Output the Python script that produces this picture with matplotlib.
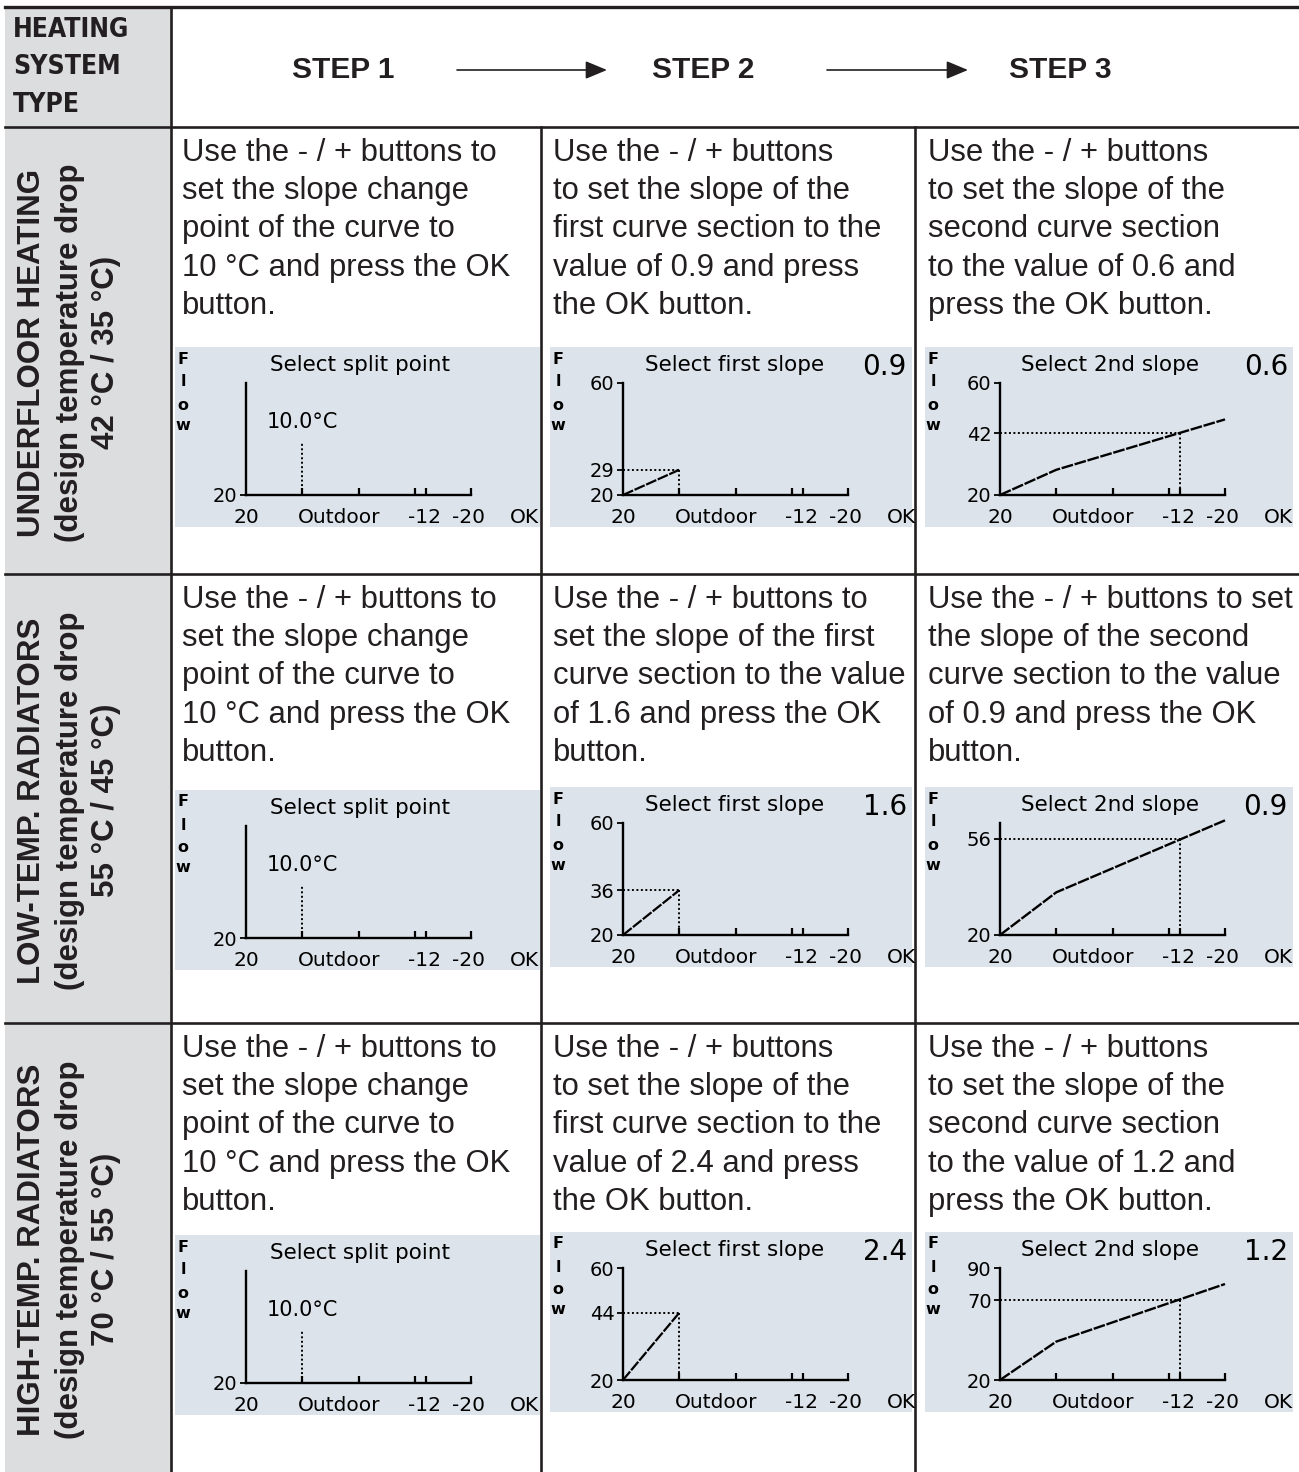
import matplotlib
matplotlib.use('Agg')
import matplotlib.pyplot as plt
from matplotlib import font_manager
from matplotlib.font_manager import FontProperties
from matplotlib.patches import Rectangle

# ---------------------------------------------------------------------
# Data
# ---------------------------------------------------------------------
header_lines = ["HEATING", "SYSTEM", "TYPE"]
step_names = ["STEP 1", "STEP 2", "STEP 3"]

systems = ["UNDERFLOOR HEATING", "LOW-TEMP. RADIATORS", "HIGH-TEMP. RADIATORS"]
drop_line = "(design temperature drop"
design_temps = ["42 °C / 35 °C)", "55 °C / 45 °C)", "70 °C / 55 °C)"]

step1_text = ["Use the - / + buttons to", "set the slope change",
              "point of the curve to", "10 °C and press the OK", "button."]
step2_text = [
    ["Use the - / + buttons", "to set the slope of the",
     "first curve section to the", "value of 0.9 and press", "the OK button."],
    ["Use the - / + buttons to", "set the slope of the first",
     "curve section to the value", "of 1.6 and press the OK", "button."],
    ["Use the - / + buttons", "to set the slope of the",
     "first curve section to the", "value of 2.4 and press", "the OK button."],
]
step3_text = [
    ["Use the - / + buttons", "to set the slope of the",
     "second curve section", "to the value of 0.6 and", "press the OK button."],
    ["Use the - / + buttons to set", "the slope of the second",
     "curve section to the value", "of 0.9 and press the OK", "button."],
    ["Use the - / + buttons", "to set the slope of the",
     "second curve section", "to the value of 1.2 and", "press the OK button."],
]

split_point = 10.0            # outdoor temp of slope change (°C)
design_outdoor = -12          # design outdoor temp (°C)
outdoor_min, outdoor_max = -20, 20
base_flow = 20
slope1 = ["0.9", "1.6", "2.4"]
slope2 = ["0.6", "0.9", "1.2"]
flow_split = [29, 36, 44]     # flow at split point
flow_design = [42, 56, 70]    # flow at -12 °C
flow_end = [47, 63, 80]       # flow at -20 °C
step2_top = [60, 60, 60]
step3_top = [60, 62, 90]
step3_top_label = [True, False, True]
x_ticks = [10, 0, -10, -12, -20]

# ---------------------------------------------------------------------
# Layout (pixels)
# ---------------------------------------------------------------------
W, H = 1299, 1472
ink = '#231f20'
gray_col = '#dcdddf'
lcd_bg = '#dde3ea'

sans = 'Liberation Sans'
lcdf = 'DejaVu Sans'

# a condensed bold face for the header column, if one is installed
narrow_prop = None
for f in font_manager.fontManager.ttflist:
    nm = (f.name + ' ' + f.fname).lower()
    if ('narrow' in nm or 'condensed' in nm) and f.weight in (700, 'bold') \
            and 'italic' not in nm and 'oblique' not in nm:
        if narrow_prop is None or 'liberation' in nm or 'arial' in nm:
            narrow_prop = FontProperties(fname=f.fname)
if narrow_prop is None:
    narrow_prop = FontProperties(family=sans, weight='bold')

row_top = [127, 574, 1023]
row_bot = [574, 1023, 1472]
col_line = [171, 541, 915]
text_x = [182, 553, 928]
panel_left = [175, 550, 925]
panel_w = [365, 362, 368]
panel_top = [[347, 347, 347], [790, 787, 787], [1235, 1232, 1232]]
origin_dx = [71, 73, 75]
axis_w = 225
axis_h = 112

fig = plt.figure(figsize=(W / 100, H / 100), dpi=100)
ax = fig.add_axes([0, 0, 1, 1])
ax.set_xlim(0, W)
ax.set_ylim(H, 0)
ax.axis('off')

# grey first column
ax.add_patch(Rectangle((5, 7), col_line[0] - 5, H - 7, color=gray_col, lw=0, zorder=0))

# table lines
ax.plot([5, W], [7, 7], color=ink, lw=2.4)
for y in [127, 574, 1023]:
    ax.plot([5, W], [y, y], color=ink, lw=1.9)
ax.plot([col_line[0], col_line[0]], [7, H], color=ink, lw=1.9)
for x in col_line[1:]:
    ax.plot([x, x], [127, H], color=ink, lw=1.9)

# header (fit "HEATING" to its width in the reference)
renderer = fig.canvas.get_renderer()
probe = ax.text(0, 0, header_lines[0], fontproperties=narrow_prop, fontsize=22)
wpx = probe.get_window_extent(renderer).width
probe.remove()
hsize = min(22.0, 22.0 * 116.0 / wpx)
for i, t in enumerate(header_lines):
    ax.text(13, 30 + i * 37.5, t, fontproperties=narrow_prop, fontsize=hsize,
            color=ink, ha='left', va='center')

step_cx = [343, 703, 1060]
for i, t in enumerate(step_names):
    ax.text(step_cx[i], 70, t, fontsize=21.5, fontweight='bold', family=sans,
            color=ink, ha='center', va='center')
for x0, x1 in [(457, 607), (827, 968)]:
    ax.annotate('', xy=(x1, 70), xytext=(x0, 70),
                arrowprops=dict(arrowstyle='-|>,head_length=0.6,head_width=0.25', lw=1.2,
                                color=ink, mutation_scale=22, shrinkA=0, shrinkB=0))

# rotated system labels
for r in range(3):
    cy = (row_top[r] + row_bot[r]) / 2 + 2
    for dx, t in [(32, systems[r]), (70, drop_line), (106, design_temps[r])]:
        ax.text(dx, cy, t, rotation=90, fontsize=22.5, fontweight='bold', family=sans,
                color=ink, ha='center', va='center')

# instruction text
for r in range(3):
    texts = [step1_text, step2_text[r], step3_text[r]]
    for c in range(3):
        for k, line in enumerate(texts[c]):
            ax.text(text_x[c], row_top[r] + 26 + k * 38.2, line, fontsize=22.3,
                    family=sans, color=ink, ha='left', va='center')


def to_fig(x, y, w, h):
    return [x / W, 1 - y / H, w / W, h / H]


dotted = (0, (1, 1.3))
curve_ls = (0, (5, 0.7))
titles = ["Select split point", "Select first slope", "Select 2nd slope"]

for r in range(3):
    for c in range(3):
        pl, pt, pw = panel_left[c], panel_top[r][c], panel_w[c]
        ax.add_patch(Rectangle((pl, pt), pw, 180, color=lcd_bg, lw=0, zorder=1))
        # "Flow" written vertically
        for k, ch in enumerate(['F', 'l', 'o', 'w']):
            ax.text(pl + 8, pt + 12 + k * 23 - (3 if ch == 'w' else 0), ch, fontsize=11.5,
                    family=lcdf, fontweight='bold', color='black', ha='center',
                    va='center', zorder=3)
        ax.text(pl + 185, pt + 18, titles[c], fontsize=15.5, family=lcdf,
                color='black', ha='center', va='center', zorder=3)
        if c == 1:
            ax.text(pl + pw - 5, pt + 20, slope1[r], fontsize=20, family=lcdf,
                    color='black', ha='right', va='center', zorder=3)
        if c == 2:
            ax.text(pl + pw - 5, pt + 20, slope2[r], fontsize=20, family=lcdf,
                    color='black', ha='right', va='center', zorder=3)

        ox = pl + origin_dx[c]
        oy = pt + 148
        a = fig.add_axes(to_fig(ox, oy, axis_w, axis_h))
        a.set_facecolor('none')
        a.set_xlim(outdoor_max, outdoor_min)
        if c == 0:
            ytop = 60
        elif c == 1:
            ytop = step2_top[r]
        else:
            ytop = step3_top[r]
        a.set_ylim(base_flow, ytop)
        for s in ['top', 'right']:
            a.spines[s].set_visible(False)
        for s in ['left', 'bottom']:
            a.spines[s].set_linewidth(1.7)
            a.spines[s].set_color('black')

        a.set_xticks(x_ticks)
        a.set_xticklabels([])
        a.tick_params(axis='x', direction='in', length=5, width=1.6)

        if c == 0:
            yt = [base_flow]
        elif c == 1:
            yt = [base_flow, flow_split[r], step2_top[r]]
        else:
            yt = [base_flow, flow_design[r]] + ([step3_top[r]] if step3_top_label[r] else [])
        a.set_yticks(yt)
        a.set_yticklabels([str(v) for v in yt], fontsize=14, family=lcdf)
        a.tick_params(axis='y', direction='out', length=4, width=1.3, pad=2)

        # x labels
        tr = a.get_xaxis_transform()
        for xv, lab in [(outdoor_max, "20"), (3.5, "Outdoor"), (-11.7, "-12"),
                        (-19.5, "-20"), (-29.5, "OK")]:
            a.text(xv, -0.2, lab, transform=tr, fontsize=14.5, family=lcdf,
                   ha='center', va='center', clip_on=False)

        if c == 0:
            a.plot([split_point, split_point], [base_flow, 39], color='black',
                   ls=dotted, lw=1.4)
            a.text(split_point, 46, "%.1f°C" % split_point, fontsize=15, family=lcdf,
                   ha='center', va='center')
        elif c == 1:
            a.plot([outdoor_max, split_point], [base_flow, flow_split[r]], color='black',
                   ls=curve_ls, lw=1.6)
            a.plot([outdoor_max, split_point], [flow_split[r], flow_split[r]],
                   color='black', ls=dotted, lw=1.4)
            a.plot([split_point, split_point], [flow_split[r], base_flow],
                   color='black', ls=dotted, lw=1.4)
        else:
            a.plot([outdoor_max, split_point, outdoor_min],
                   [base_flow, flow_split[r], flow_end[r]], color='black',
                   ls=curve_ls, lw=1.7, clip_on=False)
            a.plot([outdoor_max, design_outdoor], [flow_design[r], flow_design[r]],
                   color='black', ls=dotted, lw=1.4)
            a.plot([design_outdoor, design_outdoor], [flow_design[r], base_flow],
                   color='black', ls=dotted, lw=1.4)

fig.savefig('out.png', dpi=100)
